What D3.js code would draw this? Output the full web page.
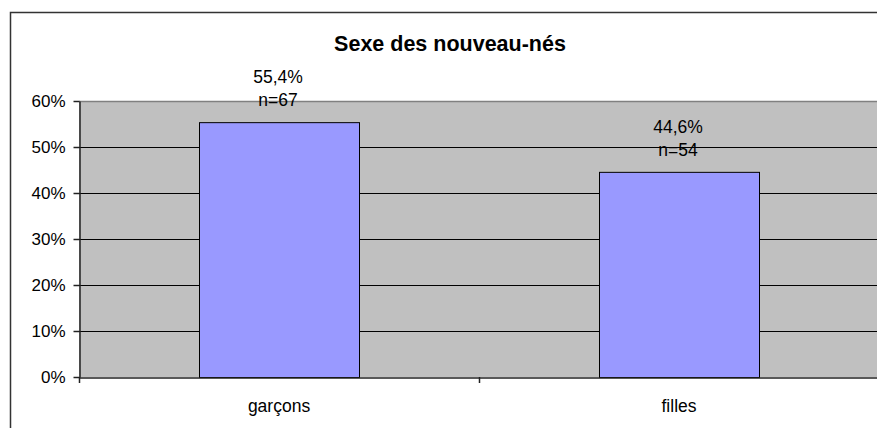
<!DOCTYPE html>
<html>
<head>
<meta charset="utf-8">
<script src="https://cdn.jsdelivr.net/npm/d3@7"></script>
<style>
  html, body { margin: 0; padding: 0; background: #fff; overflow: hidden; }
  svg { display: block; font-family: "Liberation Sans", Arial, sans-serif; }
</style>
</head>
<body>
<svg id="chart" width="877" height="428"></svg>
<script>
// Births by sex
const categories = ["garçons", "filles"];
const shares = [0.554, 0.446];
const counts = [67, 54];
const valueLabels = ["55,4%", "44,6%"];
const yTicks = [0, 0.1, 0.2, 0.3, 0.4, 0.5, 0.6];
const yTickLabels = ["0%", "10%", "20%", "30%", "40%", "50%", "60%"];
const title = "Sexe des nouveau-nés";

const svg = d3.select("#chart");
const W = 877, H = 428;
const plot = { left: 79, right: 879, top: 101, bottom: 377 };
const visibleRight = W; // the plot area continues past the page edge

// Chart frame: left and top edges (the rest runs off the page)
svg.append("path")
  .attr("d", `M10.5,${H} V12.5 H${W}`)
  .attr("fill", "none").attr("stroke", "#333").attr("stroke-width", 1.5);

const x = d3.scaleBand()
  .domain(categories)
  .range([plot.left, plot.right])
  .paddingInner(0).paddingOuter(0);

const y = d3.scaleLinear().domain([0, 0.6]).range([plot.bottom, plot.top]);

// Plot background
svg.append("rect")
  .attr("x", plot.left).attr("y", plot.top)
  .attr("width", visibleRight - plot.left).attr("height", plot.bottom - plot.top)
  .attr("fill", "#c0c0c0");

// Horizontal gridlines
svg.append("g")
  .selectAll("line")
  .data(yTicks.filter(t => t > 0 && t < 0.6))
  .join("line")
  .attr("x1", plot.left).attr("x2", visibleRight)
  .attr("y1", d => Math.round(y(d)) + 0.5).attr("y2", d => Math.round(y(d)) + 0.5)
  .attr("stroke", "#000").attr("stroke-width", 1);

// Top border of plot area
svg.append("line")
  .attr("x1", plot.left).attr("x2", visibleRight)
  .attr("y1", plot.top + 0.5).attr("y2", plot.top + 0.5)
  .attr("stroke", "#808080").attr("stroke-width", 1.5);

// Bars
const barW = x.bandwidth() / 2.5;
svg.append("g")
  .selectAll("rect")
  .data(categories)
  .join("rect")
  .attr("x", (d) => x(d) + x.bandwidth() / 2 - barW / 2 + 0.5)
  .attr("y", (d, i) => y(shares[i]) + 0.5)
  .attr("width", barW)
  .attr("height", (d, i) => y(0) - y(shares[i]))
  .attr("fill", "#9999ff")
  .attr("stroke", "#000").attr("stroke-width", 1);

// Y axis
const yAxis = d3.axisLeft(y)
  .tickValues(yTicks)
  .tickFormat((d, i) => yTickLabels[i])
  .tickSize(6).tickSizeOuter(0).tickPadding(8);
const gy = svg.append("g")
  .attr("transform", `translate(${plot.left + 0.5},0)`)
  .call(yAxis);
gy.select(".domain").attr("stroke", "#222").attr("stroke-width", 1.5);
gy.selectAll(".tick line").attr("stroke", "#222").attr("stroke-width", 1.5);
gy.selectAll(".tick text")
  .attr("font-size", 17).attr("fill", "#000")
  .attr("font-family", "Liberation Sans, Arial, sans-serif");

// X axis
const xAxis = d3.axisBottom(x).tickSize(0).tickSizeOuter(0).tickPadding(22);
const gx = svg.append("g")
  .attr("transform", `translate(0,${plot.bottom + 0.5})`)
  .call(xAxis);
gx.select(".domain").attr("stroke", "#222").attr("stroke-width", 1.5);
gx.selectAll(".tick text")
  .attr("font-size", 17.5).attr("fill", "#000")
  .attr("font-family", "Liberation Sans, Arial, sans-serif");

// Category boundary ticks
const bounds = [plot.left, ...categories.slice(1).map(c => x(c))];
svg.append("g")
  .selectAll("line")
  .data(bounds)
  .join("line")
  .attr("x1", d => d + 0.5).attr("x2", d => d + 0.5)
  .attr("y1", plot.bottom).attr("y2", plot.bottom + 6)
  .attr("stroke", "#222").attr("stroke-width", 1.5);

// Value labels
const labels = svg.append("g")
  .selectAll("text")
  .data(categories)
  .join("text")
  .attr("text-anchor", "middle")
  .attr("font-size", 17.5)
  .attr("fill", "#000")
  .attr("x", d => x(d) + x.bandwidth() / 2 - 1)
  .attr("y", (d, i) => y(shares[i]) - 39);
labels.append("tspan")
  .attr("x", d => x(d) + x.bandwidth() / 2 - 1)
  .text((d, i) => valueLabels[i]);
labels.append("tspan")
  .attr("x", d => x(d) + x.bandwidth() / 2 - 1)
  .attr("dy", 23)
  .text((d, i) => "n=" + counts[i]);

// Title
svg.append("text")
  .attr("x", 450).attr("y", 51)
  .attr("text-anchor", "middle")
  .attr("font-size", 21.5).attr("font-weight", "bold")
  .attr("fill", "#000")
  .text(title);
</script>
</body>
</html>
